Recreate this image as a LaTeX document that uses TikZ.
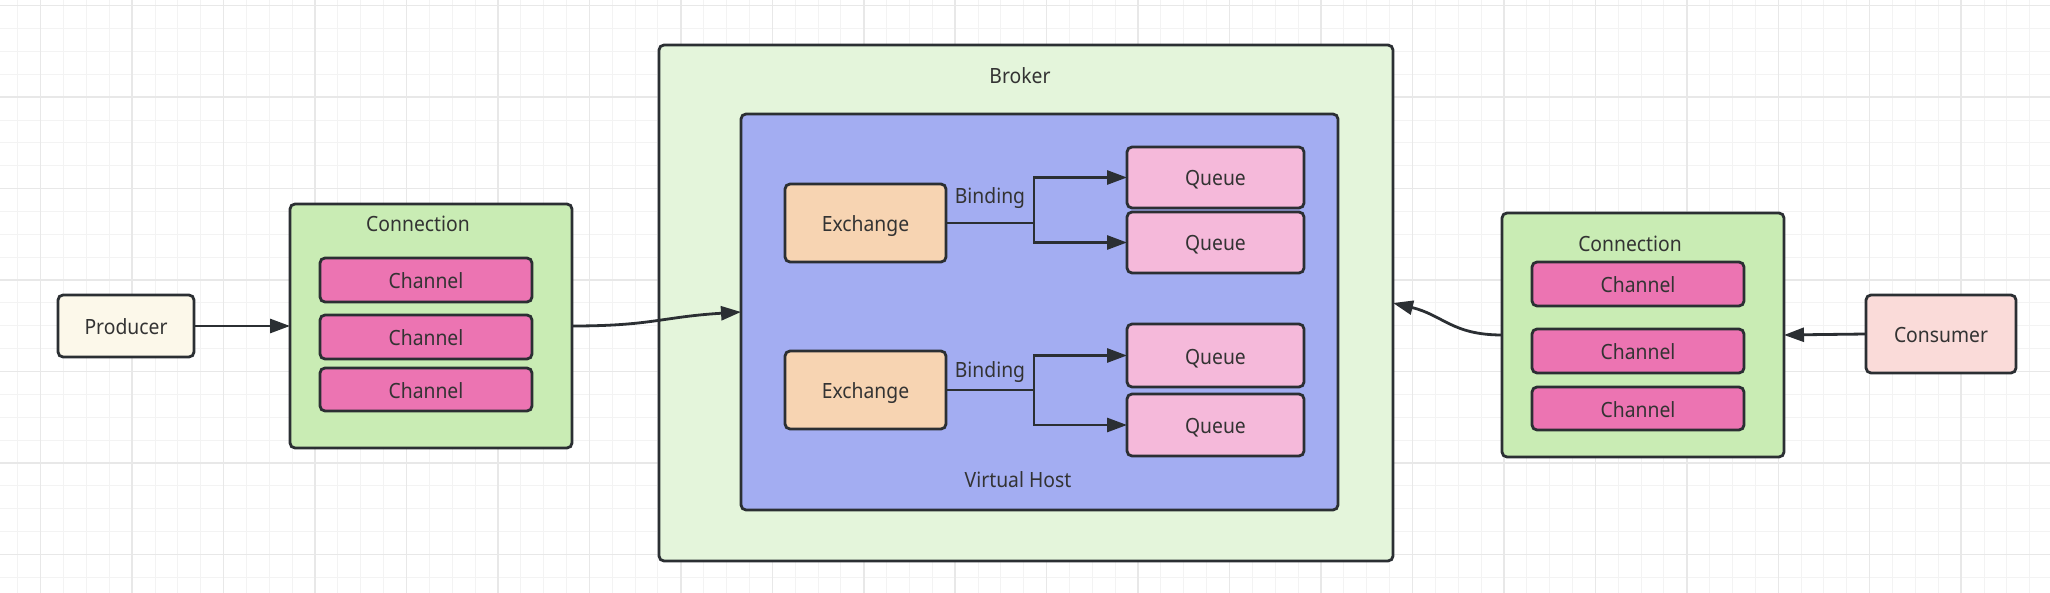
\documentclass[tikz,border=0pt]{standalone}
\usepackage{fontspec}
\setmainfont[FakeStretch=0.92]{Noto Sans}
\usetikzlibrary{arrows.meta}
\definecolor{gridminor}{HTML}{F3F3F3}
\definecolor{gridmajor}{HTML}{E8E8E8}
\definecolor{linec}{HTML}{2B2F33}
\definecolor{textc}{HTML}{333333}
\definecolor{producerc}{HTML}{FCF8EA}
\definecolor{connfill}{HTML}{C9ECB4}
\definecolor{channelc}{HTML}{EC74B2}
\definecolor{brokerc}{HTML}{E4F5DB}
\definecolor{vhostc}{HTML}{A3ADF2}
\definecolor{exchc}{HTML}{F7D4B2}
\definecolor{queuec}{HTML}{F5B9DA}
\definecolor{consumerc}{HTML}{FADBD9}
\begin{document}
\begin{tikzpicture}[x=0.5pt,y=-0.5pt,
  box/.style={draw=linec, line width=1.4pt, rounded corners=2.5pt, inner sep=0pt, outer sep=0pt, text=textc, font=\fontsize{10.5}{12}\selectfont, text height=10.5pt, text depth=2pt},
  lbl/.style={text=textc, font=\fontsize{10.5}{12}\selectfont, inner sep=0pt},
  conn/.style={draw=linec, line width=1.4pt, -{Triangle[length=10pt,width=7pt]}},
  minorline/.style={draw=gridminor, line width=0.5pt},
  majorline/.style={draw=gridmajor, line width=0.75pt}]
\useasboundingbox (0,0) rectangle (2050,593);
\fill[white] (0,0) rectangle (2050,593);
% grid
\foreach \i in {-2,...,88} {\pgfmathsetmacro\gx{40.7+\i*22.8625} \draw[minorline] (\gx,0) -- (\gx,593);}
\foreach \i in {0,...,26} {\pgfmathsetmacro\gy{5.7+\i*22.8625} \draw[minorline] (0,\gy) -- (2050,\gy);}
\foreach \i in {0,...,22} {\pgfmathsetmacro\gx{40.7+\i*91.45} \draw[majorline] (\gx,0) -- (\gx,593);}
\foreach \i in {0,...,6} {\pgfmathsetmacro\gy{5.7+\i*91.45} \draw[majorline] (0,\gy) -- (2050,\gy);}

% producer side
\node[box, fill=producerc, minimum width=68pt, minimum height=31pt] (producer) at (126,326) {Producer};
\node[box, fill=connfill, minimum width=141pt, minimum height=122pt] (conn1) at (431,326) {};
\node[lbl] (conn1t) at (418,224) {Connection};
\node[box, fill=channelc, minimum width=106pt, minimum height=22pt] (ch1) at (426,280) {Channel};
\node[box, fill=channelc, minimum width=106pt, minimum height=22pt] (ch2) at (426,337) {Channel};
\node[box, fill=channelc, minimum width=106pt, minimum height=21.5pt] (ch3) at (426,389.5) {Channel};

% broker
\node[box, fill=brokerc, minimum width=367pt, minimum height=258pt] (broker) at (1026,303) {};
\node[lbl] (brokert) at (1020,76) {Broker};
\node[box, fill=vhostc, minimum width=298.5pt, minimum height=198pt] (vhost) at (1039.5,312) {};
\node[lbl] (vhostt) at (1018,480) {Virtual Host};

\node[box, fill=exchc, minimum width=80.5pt, minimum height=39pt] (ex1) at (865.5,223) {Exchange};
\node[lbl] (bind1) at (990,198) {Binding};
\node[box, fill=queuec, minimum width=88.5pt, minimum height=30.5pt] (q1) at (1215.5,177.5) {Queue};
\node[box, fill=queuec, minimum width=88.5pt, minimum height=30.5pt] (q2) at (1215.5,242.5) {Queue};

\node[box, fill=exchc, minimum width=80.5pt, minimum height=39pt] (ex2) at (865.5,390) {Exchange};
\node[lbl] (bind2) at (990,372) {Binding};
\node[box, fill=queuec, minimum width=88.5pt, minimum height=31.5pt] (q3) at (1215.5,355.5) {Queue};
\node[box, fill=queuec, minimum width=88.5pt, minimum height=31pt] (q4) at (1215.5,425) {Queue};

\coordinate (b1) at (1034,223);
\coordinate (b2) at (1034,390);
\draw[line width=1.4pt, draw=linec] (ex1.east) -- (b1);
\draw[conn] (b1) |- (q1.west);
\draw[conn] (b1) |- (q2.west);
\draw[line width=1.4pt, draw=linec] (ex2.east) -- (b2);
\draw[conn] (b2) |- (q3.west);
\draw[conn] (b2) |- (q4.west);

% consumer side
\node[box, fill=connfill, minimum width=141pt, minimum height=122pt] (conn2) at (1643,335) {};
\node[lbl] (conn2t) at (1630,244) {Connection};
\node[box, fill=channelc, minimum width=106pt, minimum height=22pt] (ch4) at (1638,284) {Channel};
\node[box, fill=channelc, minimum width=106pt, minimum height=22pt] (ch5) at (1638,351) {Channel};
\node[box, fill=channelc, minimum width=106pt, minimum height=21.5pt] (ch6) at (1638,408.5) {Channel};
\node[box, fill=consumerc, minimum width=75pt, minimum height=39pt] (consumer) at (1941,334) {Consumer};

% connectors
\draw[conn] (producer.east) -- (conn1.west);
\draw[conn] (conn1.east) .. controls +(80,0) and +(-80,5) .. (vhost.west);
\draw[conn] (consumer.west) -- (conn2.east);
\draw[conn] (conn2.west) .. controls +(-50,0) and +(50,12) .. (broker.east);
\end{tikzpicture}
\end{document}
